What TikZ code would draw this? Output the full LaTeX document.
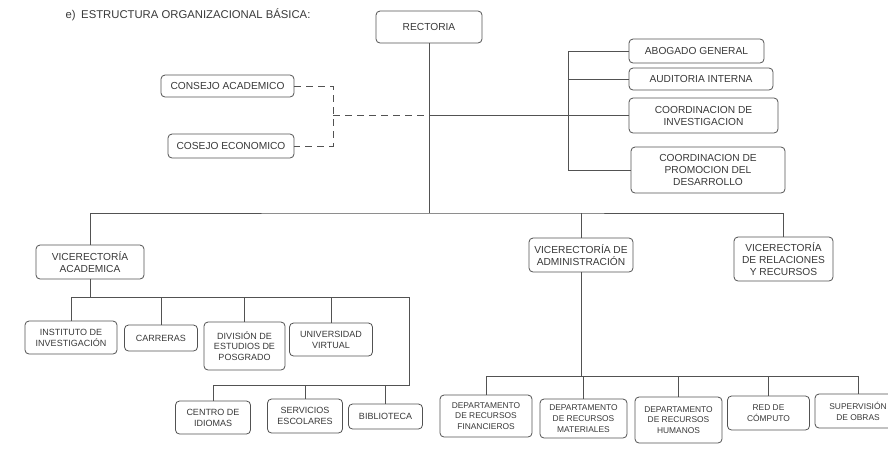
\documentclass[tikz,border=0pt]{standalone}
\usepackage{fontspec}
\setmainfont{Liberation Sans}
\usetikzlibrary{calc}
\colorlet{inkc}{black!78}
\colorlet{linec}{black!68}
\tikzset{orgp/.style={
  x=1pt,
  y=-1pt
}}
\tikzset{orgn/.style={
  draw=linec,
  line width=0.8pt,
  text=inkc,
  shape=rectangle,
  rounded corners=4pt,
  align=center,
  inner sep=1pt,
  font=\fontsize{10.2}{12}\selectfont,
}}
\tikzset{orgs/.style={orgn,font=\fontsize{9}{10.8}\selectfont}}
\tikzset{orgd/.style={orgn,font=\fontsize{8.4}{10.8}\selectfont}}
\tikzset{sz/.style 2 args={minimum width=#1pt,minimum height=#2pt}}
\tikzset{lnk/.style={draw=linec,line width=0.8pt}}
\tikzset{stf/.style={lnk,dash pattern=on 7pt off 5pt}}

\begin{document}
\begin{tikzpicture}[orgp]

    \clip (0,0) rectangle (888,451);

    %% Title
    \node[anchor=west,text=inkc,font=\fontsize{11.3}{13}\selectfont]
      (ttl) at (62,15) {e)\enspace ESTRUCTURA ORGANIZACIONAL BÁSICA:};

    %% Top level
    \node[orgn,sz={106}{32}] (rect) at (429,27) {RECTORIA};
    \node[orgn,sz={133}{22}] (cacad) at (227.5,86) {CONSEJO ACADEMICO};
    \node[orgn,sz={126}{24}] (cecon) at (231,146) {COSEJO ECONOMICO};
    \node[orgn,sz={135}{24}] (abog) at (696.5,51) {ABOGADO GENERAL};
    \node[orgn,sz={144}{22}] (audit) at (701,79) {AUDITORIA INTERNA};
    \node[orgn,sz={149}{35}] (cinv) at (703.5,115.5)
      {COORDINACION DE\\INVESTIGACION};
    \node[orgn,sz={154}{46}] (cprom) at (708,170)
      {COORDINACION DE\\PROMOCION DEL\\DESARROLLO};

    %% Vicerectorias
    \node[orgn,sz={108}{34}] (vacad) at (90,262) {VICERECTORÍA\\ACADEMICA};
    \node[orgn,sz={104}{34}] (vadm) at (581,255)
      {VICERECTORÍA DE\\ADMINISTRACIÓN};
    \node[orgn,sz={99}{44}] (vrel) at (783.5,259)
      {VICERECTORÍA\\DE RELACIONES\\Y RECURSOS};

    %% Academic units
    \node[orgs,sz={92}{33}] (inst) at (71,337.5) {INSTITUTO DE\\INVESTIGACIÓN};
    \node[orgs,sz={73}{26}] (carr) at (161,338) {CARRERAS};
    \node[orgs,sz={81}{48}] (divp) at (244.5,346)
      {DIVISIÓN DE\\ESTUDIOS DE\\POSGRADO};
    \node[orgs,sz={83}{33}] (univ) at (331,339.5) {UNIVERSIDAD\\VIRTUAL};
    \node[orgs,sz={75}{33}] (cidi) at (213,417.5) {CENTRO DE\\IDIOMAS};
    \node[orgs,sz={75}{34}] (sesc) at (305,416) {SERVICIOS\\ESCOLARES};
    \node[orgs,sz={74}{25}] (bibl) at (385.5,416.5) {BIBLIOTECA};

    %% Administration units
    \node[orgd,sz={92}{42}] (dfin) at (486,416)
      {DEPARTAMENTO\\DE RECURSOS\\FINANCIEROS};
    \node[orgd,sz={87}{39}] (dmat) at (583.5,418.5)
      {DEPARTAMENTO\\DE RECURSOS\\MATERIALES};
    \node[orgd,sz={87}{46}] (dhum) at (678.5,420)
      {DEPARTAMENTO\\DE RECURSOS\\HUMANOS};
    \node[orgd,sz={82}{34}] (dred) at (768.5,413) {RED DE\\CÓMPUTO};
    \node[orgd,sz={86}{34}] (dsup) at (858,411) {SUPERVISIÓN\\DE OBRAS};

    %% Junctions
    \coordinate (mbus) at (429,213);
    \coordinate (stfj) at (rect.south |- cinv.west);
    \coordinate (cons) at (333,115.5);
    \coordinate (brk) at (568,115.5);
    \coordinate (acbus) at (90,297);
    \coordinate (acend) at (409,297);
    \coordinate (acend2) at (409,385);
    \coordinate (adbus) at (581,376);

    %% Connectors, top
    \draw[lnk] (rect) -- (mbus);
    \draw[lnk] (vacad.north) |- (mbus) -| (vrel.north);
    \draw[lnk] (vadm.north) -- (vadm.north |- mbus);
    \draw[stf] (cacad.east) -| (cons) |- (cecon.east);
    \draw[stf] (cons) -- (stfj);
    \draw[lnk] (stfj) -- (cinv.west);
    \draw[lnk] (abog.west) -- (abog.west -| brk)
      -- (cprom.west -| brk) -- (cprom.west);
    \draw[lnk] (audit.west) -- (audit.west -| brk);

    %% Connectors, academic
    \draw[lnk] (vacad) -- (acbus);
    \draw[lnk] (inst.north) |- (acend) -- (acend2) -| (cidi.north);
    \foreach \u in {carr,divp,univ}
      \draw[lnk] (\u.north) -- (\u.north |- acbus);
    \foreach \u in {sesc,bibl}
      \draw[lnk] (\u.north) -- (\u.north |- acend2);

    %% Connectors, administration
    \draw[lnk] (vadm) -- (adbus);
    \draw[lnk] (dfin.north) |- (adbus) -| (dsup.north);
    \foreach \u in {dmat,dhum,dred}
      \draw[lnk] (\u.north) -- (\u.north |- adbus);

  \end{tikzpicture}
\end{document}
